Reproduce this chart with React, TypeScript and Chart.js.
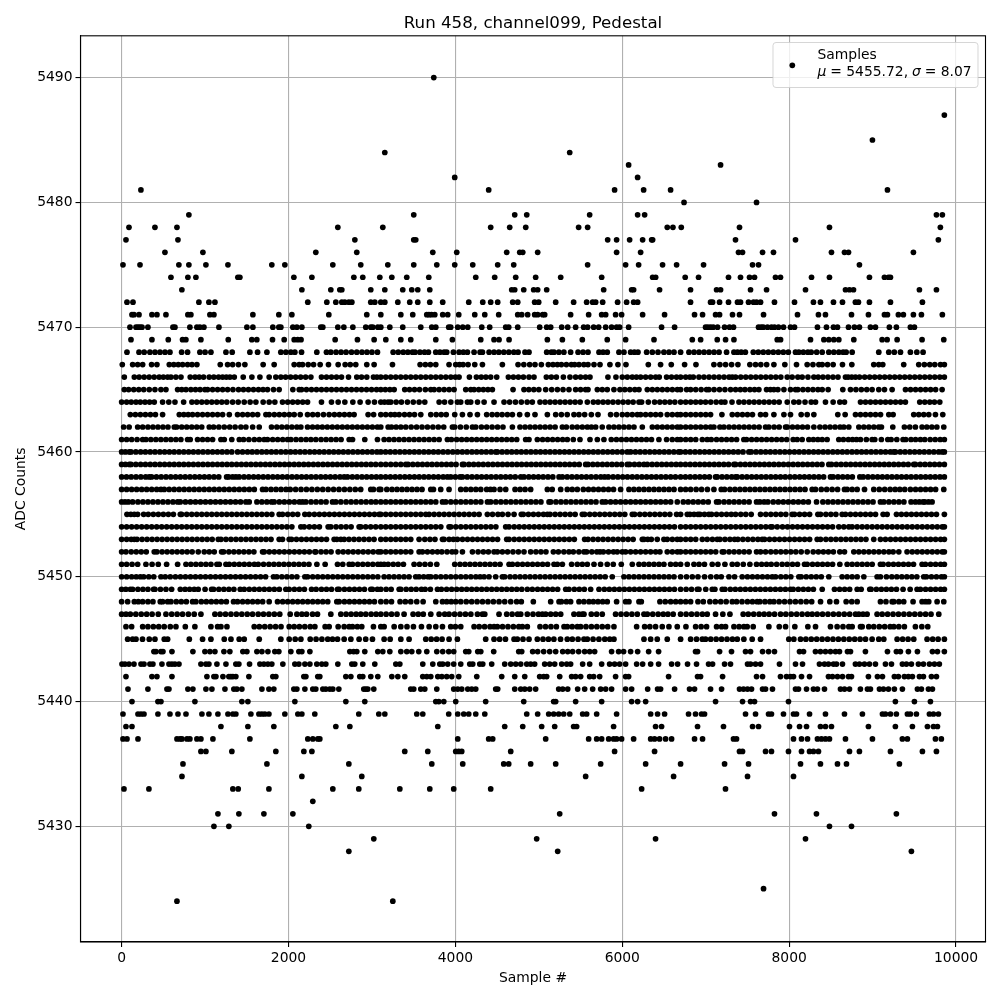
import React, { useEffect, useRef } from "react";
import { Chart, registerables } from "chart.js";

Chart.register(...registerables);

const titleText = "Run 458, channel099, Pedestal";
const xLabel = "Sample #";
const yLabel = "ADC Counts";
const xTicks = [0, 2000, 4000, 6000, 8000, 10000];
const yTicks = [5430, 5440, 5450, 5460, 5470, 5480, 5490];

const adc5490 = [3741];
const adc5487 = [9860];
const adc5485 = [8998];
const adc5484 = [3154, 5370];
const adc5483 = [6076, 7178];
const adc5482 = [3992, 6184];
const adc5481 = [231, 4399, 5908, 6256, 6579, 9178];
const adc5480 = [6740, 7609];
const adc5479 = [806, 3501, 4711, 4855, 5609, 6184, 6268, 9765, 9836];
const adc5478 = [88, 399, 663, 2591, 3130, 4423, 4651, 4843, 5477, 5585, 6539, 6607, 6707, 7405, 8483, 9812];
const adc5477 = [52, 675, 2795, 3501, 3525, 5825, 5932, 6088, 6244, 6352, 6364, 7357, 8076, 9788];
const adc5476 = [519, 974, 2327, 2818, 3729, 4016, 4615, 4771, 4807, 4986, 5932, 6220, 7393, 7441, 7681, 7812, 8507, 8663, 8711, 9489];
const adc5475 = [16, 220, 686, 806, 1010, 1274, 1800, 1956, 2531, 2866, 3190, 3501, 3777, 3992, 4208, 4507, 4699, 5585, 6040, 6196, 6483, 6651, 6974, 7561, 7633, 8842];
const adc5474 = [591, 794, 890, 1393, 1417, 2064, 2280, 2783, 2890, 3094, 3238, 3417, 3681, 4244, 4471, 4723, 4962, 5262, 5753, 6364, 6400, 6754, 6914, 7273, 7417, 7525, 7585, 7836, 7896, 8268, 8483, 8962, 9142, 9190, 9214];
const adc5473 = [722, 2160, 2507, 2615, 2639, 2986, 3154, 3369, 3477, 3549, 3693, 4675, 4711, 4819, 4938, 4986, 5094, 5777, 6112, 6136, 6447, 6818, 7130, 7178, 7537, 7729, 8196, 8675, 8723, 8771, 9561, 9765];
const adc5472 = [64, 136, 926, 1046, 1118, 2231, 2459, 2567, 2639, 2675, 2723, 2759, 2986, 3034, 3106, 3154, 3310, 3453, 3549, 3693, 3848, 4160, 4328, 4423, 4507, 4687, 4747, 4950, 4998, 5202, 5417, 5573, 5645, 5681, 5765, 5944, 6052, 6136, 6184, 6818, 7058, 7082, 7166, 7273, 7381, 7417, 7513, 7573, 7609, 7657, 7824, 8064, 8291, 8375, 8531, 8639, 8794, 8830, 8962, 9214, 9597];
const adc5471 = [124, 148, 208, 363, 423, 531, 794, 830, 1058, 1106, 1573, 1884, 2040, 2483, 2938, 3106, 3346, 3489, 3657, 3683, 3713, 3753, 3848, 3908, 4040, 4232, 4352, 4519, 4747, 4795, 4866, 4950, 4986, 5046, 5070, 5381, 5597, 5753, 5801, 5920, 5992, 6244, 6507, 6866, 6962, 7118, 7166, 7321, 7405, 7693, 8100, 8351, 8435, 8747, 8950, 9142, 9178, 9309, 9369, 9489, 9585, 9836];
const adc5470 = [100, 172, 196, 220, 244, 315, 615, 639, 818, 902, 938, 986, 1166, 1501, 1573, 1812, 1884, 1908, 2052, 2100, 2160, 2387, 2411, 2591, 2663, 2771, 2926, 2986, 3010, 3070, 3106, 3214, 3369, 3585, 3717, 3765, 3920, 3944, 4028, 4088, 4148, 4316, 4411, 4603, 4639, 4747, 5010, 5094, 5142, 5274, 5346, 5441, 5537, 5585, 5657, 5717, 5801, 5872, 5932, 5968, 6076, 6471, 6627, 6998, 7026, 7058, 7090, 7142, 7226, 7285, 7333, 7633, 7665, 7690, 7740, 7788, 7824, 7872, 7932, 8016, 8064, 8339, 8447, 8531, 8579, 8711, 8782, 8842, 8974, 9034, 9201, 9285, 9453, 9501];
const adc5469 = [112, 363, 559, 730, 770, 950, 1278, 1560, 1620, 1808, 1948, 2068, 2110, 2150, 2559, 2826, 3026, 3166, 3346, 3465, 3765, 3964, 4304, 4463, 4523, 4643, 5102, 5282, 5521, 5820, 6040, 6380, 6839, 6939, 7138, 7238, 7338, 7857, 7897, 8256, 8416, 8475, 8535, 8595, 8775, 9114, 9174, 9294, 9593, 9853];
const adc5468 = [64, 208, 270, 339, 400, 460, 520, 579, 719, 790, 938, 1000, 1070, 1250, 1325, 1537, 1629, 1741, 1908, 1968, 2028, 2076, 2156, 2339, 2455, 2507, 2570, 2630, 2690, 2755, 2818, 2880, 2940, 3000, 3066, 3254, 3315, 3375, 3430, 3485, 3517, 3575, 3630, 3677, 3765, 3815, 3865, 3896, 3976, 4044, 4095, 4144, 4224, 4296, 4324, 4404, 4463, 4520, 4580, 4640, 4700, 4751, 4834, 4882, 5094, 5150, 5182, 5240, 5300, 5381, 5470, 5530, 5589, 5721, 5770, 5820, 5960, 6020, 6100, 6145, 6188, 6292, 6360, 6428, 6499, 6560, 6620, 6699, 6799, 6860, 6920, 6980, 7040, 7100, 7160, 7250, 7338, 7380, 7425, 7475, 7570, 7630, 7690, 7750, 7810, 7870, 7930, 7990, 8076, 8116, 8170, 8224, 8264, 8330, 8396, 8475, 8535, 8595, 8647, 8683, 8755, 9074, 9194, 9260, 9334, 9453, 9530, 9605];
const adc5467 = [8, 132, 192, 252, 359, 423, 571, 625, 679, 731, 790, 843, 902, 1182, 1270, 1330, 1400, 1477, 1696, 1828, 2068, 2128, 2168, 2236, 2300, 2379, 2479, 2595, 2679, 2740, 2806, 2938, 3026, 3246, 3577, 3640, 3700, 3765, 3924, 4004, 4050, 4092, 4152, 4232, 4324, 4563, 4751, 4820, 4890, 4954, 5030, 5114, 5170, 5222, 5270, 5330, 5390, 5429, 5481, 5540, 5589, 5661, 5733, 5852, 5948, 6044, 6312, 6459, 6587, 6747, 6883, 7098, 7170, 7238, 7310, 7386, 7529, 7597, 7660, 7730, 7817, 7948, 8088, 8216, 8285, 8356, 8396, 8460, 8527, 8639, 8751, 9014, 9074, 9122, 9373, 9553, 9620, 9685, 9745, 9813, 9860];
const adc5466 = [32, 152, 210, 270, 330, 390, 450, 500, 551, 591, 650, 711, 822, 880, 930, 982, 1050, 1105, 1162, 1210, 1255, 1298, 1350, 1457, 1561, 1657, 1768, 1848, 1908, 1965, 2025, 2085, 2145, 2205, 2268, 2395, 2455, 2515, 2575, 2635, 2719, 2818, 2875, 2938, 3018, 3060, 3106, 3165, 3225, 3285, 3345, 3405, 3465, 3525, 3585, 3645, 3705, 3765, 3825, 3885, 3945, 4000, 4044, 4168, 4252, 4310, 4365, 4423, 4495, 4635, 4695, 4755, 4815, 4882, 4942, 5090, 5150, 5210, 5294, 5373, 5441, 5500, 5560, 5613, 5828, 5924, 6000, 6060, 6120, 6170, 6220, 6280, 6340, 6400, 6443, 6531, 6590, 6650, 6699, 6760, 6810, 6851, 6919, 6979, 7040, 7100, 7160, 7220, 7280, 7318, 7358, 7420, 7480, 7540, 7600, 7660, 7720, 7780, 7840, 7900, 7977, 8036, 8104, 8156, 8225, 8296, 8348, 8405, 8465, 8525, 8585, 8675, 8707, 8750, 8795, 8843, 8905, 8965, 9025, 9085, 9145, 9205, 9265, 9325, 9385, 9445, 9505, 9565, 9625, 9685, 9745, 9805, 9860];
const adc5465 = [32, 84, 145, 205, 265, 331, 399, 471, 531, 671, 720, 771, 830, 885, 940, 998, 1030, 1090, 1150, 1210, 1270, 1334, 1401, 1460, 1520, 1580, 1640, 1695, 1748, 1820, 1888, 2052, 2128, 2156, 2215, 2275, 2335, 2395, 2455, 2515, 2575, 2635, 2695, 2755, 2815, 2875, 2935, 2995, 3055, 3106, 3160, 3215, 3266, 3393, 3450, 3510, 3570, 3640, 3705, 3745, 3805, 3865, 3925, 3984, 4124, 4184, 4224, 4280, 4335, 4390, 4443, 4691, 4822, 4880, 4940, 5000, 5082, 5154, 5222, 5290, 5361, 5441, 5500, 5560, 5589, 5701, 5760, 5820, 5900, 5972, 6030, 6090, 6150, 6200, 6300, 6360, 6420, 6480, 6540, 6600, 6660, 6699, 6771, 6819, 6880, 6945, 7010, 7038, 7100, 7165, 7230, 7298, 7358, 7415, 7470, 7530, 7585, 7637, 7729, 7775, 7817, 7865, 7937, 8016, 8076, 8104, 8165, 8225, 8285, 8345, 8396, 8467, 8643, 8735, 8800, 8865, 8930, 8994, 9074, 9142, 9234, 9394, 9455, 9515, 9575, 9635, 9695, 9755, 9833];
const adc5464 = [0, 60, 115, 172, 224, 280, 335, 391, 491, 565, 639, 743, 842, 900, 960, 1020, 1080, 1140, 1200, 1260, 1330, 1397, 1469, 1540, 1609, 1696, 1768, 1836, 1928, 1990, 2050, 2110, 2170, 2228, 2395, 2515, 2595, 2675, 2771, 2858, 2954, 3030, 3106, 3150, 3194, 3226, 3290, 3353, 3425, 3495, 3565, 3633, 3805, 3870, 3945, 4024, 4064, 4144, 4184, 4265, 4344, 4463, 4583, 4650, 4720, 4790, 4860, 4922, 5014, 5075, 5135, 5195, 5255, 5315, 5375, 5435, 5495, 5581, 5653, 5710, 5770, 5828, 5888, 5950, 6010, 6070, 6130, 6200, 6232, 6312, 6387, 6450, 6510, 6570, 6630, 6699, 6760, 6820, 6880, 6939, 6998, 7060, 7125, 7186, 7230, 7315, 7398, 7458, 7520, 7580, 7640, 7700, 7760, 7820, 7880, 7977, 8056, 8116, 8190, 8264, 8316, 8435, 8527, 8607, 8663, 8855, 8915, 8975, 9035, 9095, 9155, 9215, 9275, 9335, 9393, 9565, 9625, 9685, 9741, 9805];
const adc5463 = [104, 165, 225, 285, 345, 405, 491, 691, 745, 798, 850, 910, 970, 1030, 1090, 1150, 1210, 1290, 1389, 1450, 1510, 1570, 1630, 1729, 1768, 1830, 1890, 1950, 2010, 2068, 2140, 2228, 2290, 2350, 2419, 2487, 2550, 2610, 2670, 2730, 2786, 2954, 3020, 3106, 3165, 3225, 3274, 3326, 3390, 3450, 3510, 3585, 3705, 3770, 3830, 3890, 3992, 4084, 4175, 4264, 4375, 4440, 4500, 4560, 4623, 4683, 4770, 4862, 4954, 5102, 5202, 5270, 5340, 5421, 5481, 5549, 5629, 5709, 5860, 5930, 6000, 6060, 6120, 6180, 6220, 6280, 6340, 6400, 6459, 6539, 6600, 6660, 6699, 6760, 6820, 6880, 6940, 7000, 7058, 7194, 7318, 7380, 7440, 7500, 7560, 7657, 7717, 7817, 7937, 8016, 8144, 8216, 8296, 8583, 8671, 8795, 8855, 8915, 8975, 9035, 9095, 9194, 9246, 9493, 9553, 9613, 9673, 9753, 9841];
const adc5462 = [24, 90, 192, 252, 315, 375, 435, 495, 555, 631, 659, 720, 780, 840, 900, 960, 1050, 1102, 1165, 1230, 1295, 1360, 1429, 1489, 1570, 1649, 1796, 1860, 1920, 1980, 2040, 2100, 2148, 2228, 2288, 2347, 2405, 2465, 2525, 2585, 2645, 2705, 2765, 2825, 2885, 2945, 3005, 3065, 3106, 3194, 3234, 3290, 3346, 3405, 3470, 3535, 3600, 3665, 3730, 3795, 3860, 3964, 3992, 4060, 4130, 4204, 4244, 4312, 4375, 4440, 4505, 4570, 4683, 4774, 4835, 4895, 4955, 5015, 5075, 5135, 5195, 5282, 5330, 5400, 5460, 5521, 5581, 5630, 5681, 5760, 5840, 5900, 5960, 6020, 6080, 6140, 6240, 6360, 6420, 6480, 6539, 6599, 6660, 6699, 6760, 6820, 6880, 6940, 7000, 7058, 7098, 7170, 7218, 7280, 7340, 7400, 7460, 7520, 7580, 7640, 7717, 7757, 7820, 7880, 7957, 7977, 8040, 8100, 8160, 8220, 8296, 8368, 8430, 8490, 8550, 8610, 8655, 8715, 8835, 8895, 8955, 9015, 9074, 9106, 9242, 9381, 9445, 9513, 9593, 9650, 9710, 9770, 9853];
const adc5461 = [0, 60, 120, 185, 252, 291, 350, 410, 470, 530, 590, 650, 710, 790, 822, 910, 970, 1030, 1090, 1190, 1230, 1320, 1410, 1461, 1525, 1590, 1650, 1709, 1748, 1810, 1870, 1930, 1988, 2028, 2090, 2150, 2210, 2268, 2327, 2390, 2450, 2510, 2570, 2630, 2727, 2767, 2914, 3066, 3146, 3205, 3265, 3325, 3385, 3445, 3505, 3565, 3625, 3685, 3745, 3805, 3904, 3952, 4015, 4075, 4135, 4195, 4255, 4315, 4375, 4435, 4495, 4555, 4615, 4675, 4735, 4842, 4882, 4982, 5045, 5105, 5165, 5225, 5285, 5341, 5413, 5493, 5613, 5701, 5780, 5868, 5930, 5990, 6050, 6110, 6170, 6230, 6290, 6350, 6439, 6531, 6599, 6660, 6699, 6760, 6820, 6880, 6959, 7018, 7066, 7130, 7190, 7250, 7310, 7370, 7457, 7489, 7550, 7610, 7670, 7730, 7790, 7850, 7910, 7970, 8048, 8096, 8156, 8236, 8290, 8344, 8396, 8455, 8595, 8650, 8710, 8760, 8807, 8855, 8925, 8994, 9026, 9105, 9182, 9222, 9290, 9365, 9397, 9460, 9515, 9573, 9625, 9690, 9750, 9810, 9860];
const adc5460 = [0, 45, 92, 112, 170, 228, 285, 343, 400, 458, 515, 573, 630, 688, 745, 803, 860, 918, 975, 1033, 1090, 1148, 1205, 1263, 1320, 1390, 1449, 1509, 1565, 1622, 1680, 1737, 1795, 1852, 1910, 1967, 2025, 2082, 2140, 2197, 2255, 2312, 2370, 2427, 2485, 2542, 2600, 2657, 2715, 2772, 2830, 2887, 2945, 3002, 3060, 3106, 3163, 3220, 3278, 3335, 3393, 3450, 3508, 3565, 3623, 3680, 3738, 3795, 3853, 3910, 3968, 4025, 4083, 4140, 4198, 4255, 4313, 4370, 4428, 4483, 4503, 4560, 4618, 4675, 4733, 4790, 4848, 4905, 4963, 5020, 5078, 5135, 5193, 5250, 5308, 5365, 5423, 5480, 5538, 5595, 5653, 5710, 5768, 5825, 5883, 5940, 5998, 6060, 6100, 6158, 6215, 6273, 6330, 6388, 6445, 6503, 6560, 6618, 6675, 6699, 6757, 6814, 6872, 6929, 6987, 7044, 7102, 7159, 7217, 7274, 7332, 7389, 7447, 7517, 7545, 7603, 7660, 7718, 7775, 7833, 7890, 7948, 8005, 8063, 8120, 8178, 8235, 8293, 8350, 8408, 8465, 8523, 8580, 8638, 8695, 8753, 8810, 8868, 8925, 8983, 9040, 9098, 9155, 9213, 9254, 9274, 9332, 9389, 9447, 9504, 9562, 9619, 9677, 9734, 9792, 9835, 9860];
const adc5459 = [0, 45, 92, 112, 170, 228, 285, 343, 400, 458, 515, 573, 630, 688, 745, 803, 860, 918, 975, 1033, 1090, 1148, 1205, 1263, 1320, 1378, 1435, 1493, 1550, 1608, 1665, 1723, 1780, 1838, 1895, 1953, 2010, 2068, 2125, 2183, 2240, 2298, 2355, 2413, 2470, 2528, 2585, 2643, 2700, 2758, 2815, 2873, 2930, 2988, 3045, 3106, 3165, 3225, 3285, 3345, 3405, 3433, 3490, 3548, 3605, 3663, 3720, 3778, 3835, 3893, 3950, 4008, 4084, 4104, 4162, 4219, 4277, 4334, 4392, 4449, 4507, 4564, 4622, 4679, 4737, 4794, 4852, 4909, 4967, 5024, 5082, 5139, 5197, 5254, 5312, 5369, 5427, 5484, 5561, 5589, 5647, 5704, 5762, 5819, 5877, 5934, 5992, 6060, 6088, 6146, 6203, 6260, 6300, 6358, 6415, 6473, 6530, 6588, 6645, 6699, 6757, 6814, 6872, 6929, 6987, 7044, 7102, 7159, 7217, 7274, 7338, 7358, 7416, 7473, 7531, 7588, 7646, 7703, 7761, 7818, 7876, 7933, 7991, 8048, 8106, 8163, 8221, 8278, 8336, 8393, 8475, 8507, 8565, 8622, 8680, 8737, 8795, 8852, 8910, 8967, 9025, 9082, 9140, 9197, 9255, 9312, 9370, 9427, 9493, 9513, 9571, 9628, 9686, 9743, 9801, 9860];
const adc5458 = [0, 58, 115, 173, 230, 288, 331, 359, 417, 474, 532, 589, 647, 704, 762, 819, 877, 934, 992, 1049, 1107, 1164, 1258, 1282, 1330, 1369, 1409, 1467, 1524, 1582, 1639, 1697, 1754, 1812, 1869, 1927, 1984, 2042, 2099, 2157, 2214, 2272, 2329, 2387, 2444, 2502, 2559, 2617, 2667, 2707, 2765, 2822, 2880, 2937, 2995, 3052, 3106, 3164, 3221, 3279, 3336, 3394, 3451, 3509, 3566, 3624, 3681, 3739, 3796, 3854, 3904, 3944, 4000, 4056, 4084, 4142, 4199, 4257, 4314, 4372, 4429, 4487, 4544, 4602, 4659, 4717, 4783, 4822, 4880, 4937, 4995, 5052, 5110, 5167, 5242, 5282, 5340, 5397, 5455, 5512, 5570, 5627, 5685, 5742, 5788, 5832, 5890, 5947, 6005, 6062, 6120, 6177, 6235, 6292, 6350, 6407, 6465, 6522, 6580, 6637, 6699, 6757, 6814, 6872, 6929, 6987, 7044, 7118, 7138, 7196, 7253, 7311, 7358, 7378, 7436, 7493, 7551, 7608, 7666, 7723, 7781, 7838, 7896, 7953, 8011, 8068, 8126, 8183, 8241, 8298, 8356, 8413, 8495, 8527, 8585, 8642, 8700, 8757, 8847, 8887, 8945, 9002, 9060, 9117, 9175, 9232, 9290, 9347, 9405, 9462, 9520, 9577, 9635, 9692, 9750, 9807, 9860];
const adc5457 = [0, 60, 120, 180, 240, 300, 360, 420, 471, 511, 570, 630, 690, 750, 810, 870, 930, 990, 1050, 1110, 1170, 1230, 1290, 1350, 1410, 1470, 1530, 1590, 1689, 1729, 1790, 1850, 1910, 1970, 2020, 2085, 2150, 2215, 2280, 2345, 2410, 2475, 2540, 2605, 2670, 2735, 2800, 2865, 2986, 3018, 3086, 3106, 3178, 3240, 3300, 3360, 3420, 3480, 3540, 3600, 3705, 3737, 3824, 3924, 4064, 4125, 4185, 4245, 4304, 4375, 4420, 4463, 4535, 4603, 4715, 4775, 4835, 4902, 5102, 5160, 5262, 5341, 5400, 5461, 5533, 5595, 5655, 5715, 5775, 5835, 5895, 5980, 6080, 6140, 6200, 6260, 6320, 6380, 6440, 6500, 6560, 6620, 6699, 6759, 6819, 6885, 6950, 7020, 7098, 7186, 7226, 7290, 7350, 7410, 7470, 7530, 7590, 7650, 7710, 7770, 7830, 7890, 7950, 8010, 8070, 8130, 8190, 8276, 8316, 8385, 8450, 8515, 8580, 8663, 8695, 8755, 8815, 8903, 9014, 9080, 9145, 9210, 9270, 9326, 9385, 9453, 9515, 9575, 9635, 9695, 9755, 9853];
const adc5456 = [0, 40, 80, 132, 195, 255, 315, 375, 435, 495, 555, 615, 671, 703, 765, 825, 885, 945, 1005, 1065, 1125, 1185, 1245, 1305, 1365, 1425, 1489, 1529, 1621, 1680, 1740, 1796, 1828, 1890, 1950, 2010, 2070, 2130, 2168, 2208, 2270, 2330, 2390, 2450, 2527, 2567, 2627, 2690, 2750, 2810, 2870, 2930, 2990, 3046, 3106, 3165, 3225, 3285, 3345, 3405, 3465, 3525, 3585, 3645, 3705, 3765, 3845, 3884, 3945, 4005, 4065, 4125, 4185, 4245, 4305, 4384, 4423, 4485, 4545, 4605, 4665, 4725, 4785, 4845, 4905, 4965, 5025, 5122, 5142, 5205, 5265, 5325, 5385, 5445, 5505, 5565, 5625, 5685, 5760, 5800, 5860, 5920, 5980, 6040, 6100, 6160, 6220, 6280, 6340, 6400, 6460, 6520, 6580, 6659, 6731, 6790, 6850, 6910, 6970, 7030, 7130, 7158, 7220, 7280, 7340, 7400, 7460, 7520, 7609, 7649, 7700, 7745, 7809, 7870, 7930, 7990, 8050, 8110, 8170, 8230, 8328, 8404, 8465, 8525, 8585, 8645, 8705, 8765, 8825, 8885, 8945, 9005, 9094, 9134, 9195, 9255, 9315, 9375, 9461, 9513, 9560, 9605, 9625, 9670, 9713];
const adc5455 = [64, 110, 152, 192, 264, 319, 380, 440, 500, 560, 620, 703, 719, 780, 840, 900, 960, 1020, 1080, 1140, 1200, 1260, 1320, 1380, 1440, 1500, 1560, 1620, 1680, 1740, 1800, 1888, 1928, 1990, 2050, 2110, 2196, 2248, 2310, 2370, 2430, 2490, 2550, 2610, 2670, 2730, 2790, 2850, 2910, 2970, 3030, 3086, 3106, 3165, 3225, 3285, 3345, 3405, 3465, 3525, 3585, 3645, 3685, 3745, 3805, 3865, 3925, 3985, 4045, 4105, 4165, 4225, 4284, 4383, 4445, 4510, 4563, 4631, 4703, 4790, 4814, 4875, 4935, 4995, 5055, 5102, 5134, 5195, 5255, 5315, 5375, 5435, 5521, 5549, 5610, 5670, 5730, 5790, 5850, 5910, 5970, 6030, 6120, 6148, 6210, 6270, 6330, 6390, 6450, 6510, 6570, 6651, 6699, 6779, 6811, 6860, 6907, 6931, 6985, 7038, 7070, 7130, 7190, 7250, 7306, 7358, 7420, 7480, 7545, 7657, 7720, 7780, 7840, 7900, 7960, 8036, 8064, 8125, 8185, 8245, 8344, 8376, 8440, 8500, 8560, 8635, 8675, 8735, 8795, 8855, 8915, 8975, 9035, 9126, 9174, 9286, 9345, 9405, 9465, 9525, 9585, 9645, 9705, 9765, 9860];
const adc5454 = [0, 60, 120, 180, 240, 300, 360, 420, 480, 540, 600, 660, 720, 780, 840, 900, 960, 1020, 1080, 1140, 1200, 1260, 1320, 1380, 1440, 1500, 1560, 1620, 1680, 1740, 1800, 1860, 1920, 1980, 2040, 2148, 2188, 2250, 2310, 2370, 2475, 2507, 2570, 2630, 2690, 2750, 2846, 2866, 2925, 2985, 3045, 3106, 3165, 3225, 3285, 3345, 3405, 3465, 3525, 3585, 3645, 3705, 3765, 3825, 3924, 3944, 4005, 4065, 4125, 4185, 4245, 4305, 4365, 4425, 4485, 4603, 4643, 4705, 4765, 4825, 4885, 4945, 5005, 5065, 5125, 5185, 5245, 5305, 5365, 5425, 5485, 5545, 5605, 5665, 5725, 5785, 5845, 5905, 5965, 6025, 6085, 6145, 6205, 6265, 6325, 6385, 6445, 6505, 6565, 6625, 6699, 6760, 6820, 6880, 6940, 7000, 7060, 7120, 7180, 7240, 7300, 7360, 7420, 7480, 7540, 7600, 7660, 7720, 7777, 7797, 7857, 7920, 7980, 8040, 8100, 8160, 8220, 8280, 8340, 8400, 8460, 8520, 8595, 8655, 8715, 8755, 8815, 8875, 8934, 8995, 9055, 9115, 9175, 9235, 9295, 9355, 9415, 9475, 9535, 9595, 9655, 9715, 9775, 9835, 9860];
const adc5453 = [0, 60, 115, 152, 184, 245, 305, 365, 425, 485, 545, 605, 665, 725, 785, 845, 905, 965, 1025, 1085, 1158, 1190, 1250, 1310, 1370, 1430, 1490, 1550, 1610, 1670, 1730, 1790, 1888, 1928, 2008, 2036, 2095, 2155, 2215, 2275, 2335, 2395, 2455, 2547, 2579, 2627, 2667, 2725, 2785, 2845, 2905, 2965, 3025, 3106, 3165, 3225, 3285, 3345, 3405, 3465, 3565, 3633, 3695, 3755, 3845, 3864, 3925, 3976, 4024, 4085, 4145, 4205, 4265, 4325, 4385, 4445, 4505, 4615, 4643, 4705, 4765, 4825, 4885, 4945, 5005, 5065, 5125, 5185, 5245, 5305, 5365, 5425, 5549, 5589, 5650, 5710, 5770, 5830, 5890, 5950, 6010, 6070, 6130, 6240, 6260, 6305, 6348, 6419, 6499, 6539, 6600, 6659, 6699, 6760, 6820, 6880, 6959, 7018, 7080, 7138, 7170, 7230, 7290, 7346, 7385, 7445, 7505, 7565, 7625, 7677, 7705, 7765, 7825, 7885, 7945, 8005, 8065, 8125, 8185, 8245, 8336, 8376, 8440, 8500, 8560, 8620, 8680, 8740, 8800, 8860, 8920, 9014, 9094, 9154, 9215, 9275, 9335, 9395, 9455, 9515, 9575, 9635, 9695, 9755, 9815, 9860];
const adc5452 = [0, 52, 115, 175, 235, 295, 391, 423, 485, 545, 605, 665, 725, 785, 845, 918, 990, 1050, 1110, 1198, 1222, 1285, 1345, 1405, 1465, 1525, 1585, 1689, 1709, 1770, 1830, 1890, 1950, 2010, 2070, 2130, 2190, 2250, 2316, 2327, 2390, 2450, 2510, 2595, 2655, 2715, 2775, 2835, 2895, 2955, 3015, 3075, 3106, 3165, 3225, 3285, 3345, 3405, 3465, 3565, 3605, 3665, 3725, 3785, 3837, 3900, 3960, 4004, 4084, 4204, 4272, 4335, 4395, 4463, 4503, 4563, 4625, 4690, 4755, 4822, 4902, 4965, 5025, 5085, 5174, 5234, 5300, 5361, 5413, 5480, 5541, 5573, 5635, 5695, 5733, 5773, 5835, 5895, 5940, 6000, 6040, 6100, 6160, 6220, 6280, 6340, 6400, 6451, 6539, 6600, 6660, 6699, 6760, 6820, 6880, 6940, 7000, 7060, 7120, 7198, 7218, 7280, 7340, 7400, 7460, 7520, 7609, 7657, 7717, 7780, 7840, 7900, 7960, 8020, 8080, 8144, 8216, 8288, 8350, 8410, 8470, 8530, 8607, 8663, 8775, 8835, 8895, 8955, 9015, 9075, 9135, 9195, 9246, 9314, 9413, 9475, 9535, 9595, 9655, 9715, 9775, 9835, 9860];
const adc5451 = [0, 60, 125, 192, 291, 365, 439, 539, 671, 771, 830, 890, 950, 1010, 1070, 1142, 1170, 1250, 1290, 1350, 1410, 1470, 1530, 1590, 1637, 1701, 1765, 1825, 1885, 1945, 2005, 2065, 2125, 2185, 2245, 2340, 2439, 2587, 2650, 2727, 2767, 2830, 2890, 2950, 3010, 3070, 3106, 3146, 3194, 3255, 3314, 3377, 3505, 3570, 3635, 3700, 3777, 3992, 4055, 4115, 4175, 4235, 4295, 4355, 4415, 4475, 4535, 4643, 4683, 4745, 4805, 4865, 4925, 4985, 5045, 5105, 5182, 5222, 5282, 5393, 5461, 5521, 5581, 5661, 5740, 5820, 5892, 5988, 6120, 6200, 6260, 6320, 6380, 6440, 6499, 6579, 6640, 6699, 6779, 6859, 6920, 6985, 7078, 7146, 7230, 7318, 7378, 7450, 7529, 7609, 7670, 7729, 7785, 7850, 7916, 7976, 8040, 8100, 8184, 8216, 8280, 8340, 8400, 8460, 8520, 8607, 8695, 8755, 8815, 8875, 8935, 8995, 9094, 9126, 9190, 9250, 9310, 9370, 9430, 9490, 9593, 9633, 9695, 9755, 9815, 9860];
const adc5450 = [0, 60, 120, 175, 224, 264, 325, 385, 471, 523, 583, 645, 705, 765, 825, 885, 945, 1005, 1065, 1125, 1185, 1245, 1305, 1365, 1425, 1485, 1545, 1605, 1665, 1725, 1820, 1860, 1920, 1980, 2040, 2100, 2196, 2228, 2290, 2350, 2410, 2470, 2530, 2590, 2650, 2710, 2770, 2830, 2890, 2950, 3010, 3070, 3146, 3205, 3265, 3325, 3385, 3445, 3525, 3565, 3620, 3673, 3705, 3765, 3825, 3885, 3945, 4005, 4065, 4125, 4185, 4245, 4296, 4344, 4403, 4483, 4563, 4591, 4655, 4715, 4775, 4835, 4895, 4955, 5015, 5075, 5135, 5195, 5255, 5315, 5375, 5435, 5495, 5555, 5615, 5675, 5735, 5795, 5880, 6020, 6080, 6140, 6200, 6260, 6320, 6380, 6440, 6500, 6560, 6620, 6699, 6770, 6839, 6907, 6986, 7060, 7130, 7186, 7278, 7346, 7437, 7500, 7560, 7620, 7680, 7740, 7797, 7837, 7900, 7960, 8020, 8116, 8144, 8205, 8265, 8325, 8385, 8475, 8635, 8695, 8755, 8815, 8895, 9054, 9094, 9166, 9230, 9290, 9350, 9410, 9470, 9530, 9613, 9645, 9705, 9765, 9825, 9860];
const adc5449 = [0, 50, 104, 132, 195, 255, 315, 383, 399, 465, 531, 599, 703, 760, 815, 870, 918, 1000, 1078, 1102, 1165, 1225, 1285, 1345, 1421, 1469, 1530, 1590, 1650, 1710, 1770, 1830, 1890, 1968, 2008, 2070, 2130, 2190, 2276, 2331, 2395, 2455, 2515, 2587, 2607, 2670, 2730, 2790, 2850, 2910, 2986, 3006, 3065, 3106, 3170, 3230, 3326, 3346, 3410, 3470, 3530, 3593, 3637, 3700, 3785, 3832, 3895, 3955, 4015, 4075, 4135, 4195, 4255, 4315, 4375, 4435, 4495, 4555, 4615, 4675, 4735, 4795, 4862, 4922, 4985, 5045, 5105, 5165, 5225, 5322, 5361, 5425, 5485, 5545, 5621, 5721, 5785, 5845, 5905, 5965, 6025, 6085, 6145, 6205, 6265, 6325, 6385, 6445, 6505, 6565, 6625, 6699, 6765, 6830, 6899, 6919, 7000, 7078, 7110, 7198, 7230, 7295, 7355, 7415, 7475, 7535, 7595, 7655, 7715, 7775, 7835, 7895, 7955, 8016, 8048, 8110, 8170, 8230, 8290, 8396, 8543, 8605, 8665, 8725, 8815, 8863, 8966, 8982, 9045, 9105, 9165, 9225, 9286, 9365, 9450, 9533, 9573, 9635, 9695, 9755, 9815, 9860];
const adc5448 = [0, 72, 152, 200, 252, 315, 375, 463, 491, 551, 591, 655, 715, 775, 850, 890, 955, 1015, 1075, 1135, 1195, 1255, 1341, 1389, 1450, 1510, 1570, 1630, 1690, 1768, 1868, 1930, 1990, 2050, 2110, 2170, 2230, 2290, 2350, 2410, 2470, 2579, 2607, 2670, 2730, 2790, 2850, 2910, 2970, 3030, 3106, 3170, 3234, 3337, 3400, 3465, 3537, 3613, 3765, 3845, 3896, 3950, 4004, 4064, 4130, 4195, 4260, 4325, 4390, 4455, 4523, 4591, 4663, 4734, 4790, 4934, 5142, 5242, 5270, 5330, 5381, 5481, 5540, 5601, 5653, 5709, 5765, 5820, 5932, 6040, 6080, 6200, 6228, 6451, 6515, 6580, 6640, 6699, 6760, 6819, 6907, 6971, 7050, 7115, 7180, 7245, 7318, 7370, 7435, 7500, 7560, 7617, 7649, 7710, 7769, 7817, 7880, 7945, 8010, 8075, 8140, 8205, 8270, 8376, 8487, 8567, 8683, 8750, 8815, 9094, 9160, 9234, 9254, 9315, 9373, 9485, 9593, 9635, 9673, 9773, 9853];
const adc5447 = [0, 52, 104, 170, 235, 300, 365, 439, 531, 600, 665, 730, 800, 870, 950, 1118, 1180, 1245, 1310, 1375, 1440, 1505, 1569, 1637, 1700, 1765, 1830, 1895, 2020, 2100, 2160, 2216, 2288, 2347, 2507, 2627, 2690, 2750, 2810, 2866, 2926, 2990, 3050, 3106, 3170, 3235, 3300, 3385, 3493, 3555, 3615, 3705, 3805, 3872, 3924, 3990, 4055, 4120, 4185, 4264, 4324, 4352, 4523, 4615, 4680, 4745, 4783, 4862, 4930, 4995, 5042, 5082, 5142, 5202, 5262, 5421, 5480, 5521, 5541, 5629, 5693, 5760, 5920, 5985, 6050, 6115, 6180, 6260, 6300, 6365, 6430, 6491, 6547, 6610, 6699, 6765, 6830, 6895, 6960, 7018, 7118, 7205, 7290, 7449, 7510, 7575, 7640, 7700, 7760, 7825, 7897, 7960, 8025, 8090, 8155, 8220, 8276, 8336, 8400, 8465, 8530, 8595, 8660, 8725, 8795, 8835, 8885, 8934, 9054, 9115, 9180, 9245, 9310, 9375, 9440, 9505, 9570, 9635, 9700, 9793];
const adc5446 = [52, 120, 252, 315, 380, 445, 510, 583, 651, 763, 878, 1070, 1150, 1190, 1262, 1589, 1650, 1715, 1780, 1845, 1910, 2008, 2068, 2130, 2195, 2260, 2316, 2439, 2487, 2595, 2667, 2727, 2767, 2825, 2878, 3018, 3106, 3146, 3266, 3346, 3420, 3497, 3593, 3685, 3765, 3845, 3944, 4000, 4064, 4224, 4285, 4350, 4415, 4463, 4503, 4565, 4630, 4695, 4760, 4803, 4862, 5014, 5080, 5145, 5210, 5302, 5341, 5400, 5461, 5501, 5565, 5630, 5695, 5760, 5825, 5900, 6172, 6268, 6330, 6399, 6479, 6559, 6659, 6763, 6879, 6945, 7010, 7130, 7190, 7238, 7338, 7400, 7457, 7497, 7569, 7757, 7881, 7957, 8068, 8224, 8316, 8495, 8575, 8645, 8715, 8755, 8855, 8875, 8954, 9014, 9080, 9145, 9210, 9254, 9314, 9381, 9513, 9590, 9661];
const adc5445 = [72, 132, 172, 250, 331, 399, 511, 551, 811, 970, 1070, 1230, 1310, 1409, 1469, 1649, 1908, 2008, 2080, 2148, 2260, 2330, 2400, 2470, 2527, 2587, 2667, 2747, 2846, 2925, 3006, 3146, 3218, 3346, 3445, 3645, 3710, 3775, 3840, 3924, 4024, 4363, 4463, 4530, 4600, 4703, 4742, 4810, 4882, 4982, 5050, 5115, 5180, 5260, 5341, 5401, 5470, 5541, 5581, 5650, 5720, 5790, 5850, 5900, 6260, 6340, 6419, 6539, 6699, 6819, 6890, 6959, 6998, 7060, 7125, 7190, 7255, 7320, 7378, 7457, 7557, 7657, 7996, 8056, 8136, 8200, 8265, 8330, 8395, 8460, 8525, 8590, 8655, 8720, 8785, 8850, 8915, 8994, 9074, 9134, 9294, 9360, 9425, 9493, 9653, 9720, 9785, 9860];
const adc5444 = [387, 411, 471, 495, 603, 854, 998, 1058, 1118, 1226, 1297, 1453, 1501, 1621, 1681, 1753, 1836, 1884, 2028, 2124, 2160, 2256, 2735, 2780, 2818, 2914, 3070, 3130, 3214, 3346, 3417, 3477, 3561, 3657, 3777, 3848, 3920, 3980, 4124, 4160, 4268, 4304, 4459, 4759, 4795, 4926, 4986, 5058, 5130, 5202, 5286, 5346, 5405, 5477, 5549, 5609, 5669, 5872, 5956, 6016, 6100, 6184, 6316, 6435, 6878, 6902, 7166, 7309, 7477, 7537, 7681, 7753, 7824, 8124, 8172, 8315, 8375, 8435, 8495, 8555, 8603, 8699, 8735, 8914, 9178, 9285, 9333, 9429, 9537, 9717, 9777, 9860];
const adc5443 = [4, 40, 88, 148, 232, 268, 339, 375, 483, 567, 603, 639, 687, 950, 1010, 1046, 1142, 1250, 1369, 1405, 1533, 1657, 1705, 1753, 1800, 1932, 2076, 2124, 2196, 2256, 2339, 2399, 2447, 2591, 2759, 2794, 2890, 3034, 3286, 3334, 3609, 3729, 3813, 3848, 3908, 3980, 4064, 4172, 4208, 4292, 4328, 4435, 4591, 4663, 4723, 4783, 4855, 4902, 4950, 5070, 5130, 5190, 5274, 5334, 5381, 5525, 5609, 5753, 5848, 5908, 5968, 6040, 6172, 6244, 6340, 6435, 6591, 6663, 6782, 6890, 7034, 7082, 7226, 7297, 7501, 7537, 7597, 7657, 7884, 8076, 8160, 8363, 8423, 8471, 8531, 8567, 8639, 8794, 8842, 8902, 8962, 9034, 9154, 9226, 9357, 9405, 9465, 9549, 9609, 9681, 9741, 9800];
const adc5442 = [52, 363, 423, 603, 1022, 1106, 1130, 1214, 1285, 1309, 1333, 1369, 1525, 1812, 1848, 2184, 2208, 2351, 2375, 2687, 2747, 2854, 2890, 2986, 3070, 3238, 3310, 3393, 3609, 3657, 3705, 3789, 3837, 3896, 3956, 4040, 4256, 4555, 4711, 4831, 5010, 5058, 5094, 5250, 5393, 5441, 5501, 5609, 5657, 5729, 5920, 6040, 6076, 6555, 6902, 6938, 7202, 7609, 7681, 7896, 7968, 8016, 8052, 8148, 8244, 8471, 8519, 8579, 8639, 8711, 8747, 8950, 9058, 9118, 9261, 9309, 9381, 9429, 9477, 9561, 9609, 9705, 9765];
const adc5441 = [76, 315, 543, 567, 794, 854, 1010, 1082, 1238, 1345, 1381, 1441, 1681, 1765, 1824, 2064, 2100, 2196, 2291, 2327, 2411, 2447, 2495, 2531, 2603, 2902, 2926, 2950, 3022, 3465, 3501, 3585, 3633, 3777, 3980, 4028, 4076, 4148, 4196, 4244, 4483, 4507, 4711, 4783, 4831, 4890, 4962, 5238, 5286, 5346, 5465, 5549, 5645, 5741, 5801, 5872, 6040, 6112, 6304, 6423, 6459, 6627, 6806, 6866, 7058, 7190, 7405, 7453, 7501, 7549, 7681, 7717, 7800, 8076, 8112, 8208, 8291, 8339, 8423, 8615, 8663, 8723, 8854, 8938, 8974, 9082, 9130, 9190, 9261, 9357, 9537, 9585, 9669, 9717];
const adc5440 = [124, 435, 471, 878, 1441, 1513, 2076, 2687, 2914, 3765, 3801, 3861, 4004, 4363, 4819, 5178, 5202, 5441, 5753, 6112, 6184, 6280, 7118, 7441, 7537, 7585, 7992, 9273, 9501, 9693];
const adc5439 = [16, 196, 232, 268, 435, 579, 675, 771, 962, 1046, 1154, 1274, 1333, 1369, 1549, 1645, 1681, 1717, 1765, 1956, 2112, 2160, 2315, 2842, 3082, 3154, 3537, 3609, 3920, 4028, 4100, 4160, 4244, 4352, 4855, 4986, 5118, 5178, 5238, 5298, 5370, 5525, 5573, 5693, 5932, 6340, 6423, 6507, 6794, 6878, 6950, 6986, 7477, 7597, 7753, 7788, 7932, 8052, 8088, 8244, 8435, 8663, 8878, 9118, 9154, 9214, 9285, 9417, 9453, 9525, 9681, 9729, 9789];
const adc5438 = [52, 124, 1190, 1513, 1824, 2567, 2735, 3789, 4591, 4807, 5034, 5190, 5417, 5453, 5896, 6399, 6471, 6902, 7213, 7561, 7633, 8004, 8124, 8208, 8375, 8435, 8507, 8950, 9273, 9477, 9657, 9729, 9777];
const adc5437 = [16, 64, 196, 663, 700, 723, 783, 818, 902, 950, 1094, 1537, 2231, 2291, 2351, 2375, 4028, 4399, 4447, 5082, 5597, 5693, 5753, 5837, 5896, 5932, 5992, 6136, 6340, 6387, 6447, 6519, 6591, 6866, 6962, 7333, 7369, 8052, 8148, 8220, 8339, 8387, 8435, 8483, 8675, 8998, 9357, 9417, 9753, 9824];
const adc5436 = [950, 1010, 1321, 1848, 2184, 2280, 3393, 3669, 4004, 4040, 4076, 4663, 5908, 6387, 7405, 7441, 7717, 7788, 7992, 8148, 8244, 8291, 8351, 8723, 8842, 9214, 9597, 9765];
const adc5435 = [735, 1741, 2723, 3717, 4088, 4579, 4639, 4902, 5202, 5741, 6280, 6699, 7226, 7513, 8136, 8375, 8579, 8687, 9321];
const adc5434 = [723, 2160, 2878, 5561, 6615, 7501, 8052];
const adc5433 = [28, 327, 1333, 1397, 1765, 2531, 2842, 3334, 3693, 3980, 4423, 6232, 7237];
const adc5432 = [2291];
const adc5431 = [1154, 1405, 1705, 2052, 5250, 7824, 8327, 9285];
const adc5430 = [1106, 1285, 2243, 8483, 8747];
const adc5429 = [3022, 4974, 6399, 8196];
const adc5428 = [2723, 5226, 9465];
const adc5425 = [7693];
const adc5424 = [663, 3250];

const levels: [number, number[]][] = [
  [5490, adc5490], [5487, adc5487], [5485, adc5485], [5484, adc5484], [5483, adc5483], [5482, adc5482],
  [5481, adc5481], [5480, adc5480], [5479, adc5479], [5478, adc5478], [5477, adc5477], [5476, adc5476],
  [5475, adc5475], [5474, adc5474], [5473, adc5473], [5472, adc5472], [5471, adc5471], [5470, adc5470],
  [5469, adc5469], [5468, adc5468], [5467, adc5467], [5466, adc5466], [5465, adc5465], [5464, adc5464],
  [5463, adc5463], [5462, adc5462], [5461, adc5461], [5460, adc5460], [5459, adc5459], [5458, adc5458],
  [5457, adc5457], [5456, adc5456], [5455, adc5455], [5454, adc5454], [5453, adc5453], [5452, adc5452],
  [5451, adc5451], [5450, adc5450], [5449, adc5449], [5448, adc5448], [5447, adc5447], [5446, adc5446],
  [5445, adc5445], [5444, adc5444], [5443, adc5443], [5442, adc5442], [5441, adc5441], [5440, adc5440],
  [5439, adc5439], [5438, adc5438], [5437, adc5437], [5436, adc5436], [5435, adc5435], [5434, adc5434],
  [5433, adc5433], [5432, adc5432], [5431, adc5431], [5430, adc5430], [5429, adc5429], [5428, adc5428],
  [5425, adc5425], [5424, adc5424],
];

const FONT = '"DejaVu Sans"';

const framePlugin = {
  id: "frameAndLegend",
  afterDatasetsDraw(chart: any) {
    const { ctx, chartArea: a } = chart;
    ctx.save();
    ctx.strokeStyle = "#000";
    ctx.lineWidth = 1.1;
    ctx.strokeRect(a.left, a.top, a.right - a.left, a.bottom - a.top);
    // legend box
    const bx = 773, by = 42.5, bw = 205, bh = 45, r = 3;
    ctx.beginPath();
    ctx.roundRect(bx, by, bw, bh, r);
    ctx.fillStyle = "rgba(255,255,255,0.8)";
    ctx.fill();
    ctx.strokeStyle = "rgba(204,204,204,0.8)";
    ctx.lineWidth = 1;
    ctx.stroke();
    ctx.fillStyle = "#000";
    ctx.beginPath();
    ctx.arc(792.3, 65.3, 2.85, 0, Math.PI * 2);
    ctx.fill();
    ctx.textBaseline = "alphabetic";
    ctx.textAlign = "left";
    ctx.font = `13.89px ${FONT}`;
    ctx.fillText("Samples", 817.5, 58.7);
    let x = 817.5;
    const baseline = 76;
    const parts: [string, boolean][] = [["μ", true], [" = 5455.72, ", false], ["σ", true], [" = 8.07", false]];
    for (const [t, it] of parts) {
      ctx.font = `${it ? "italic " : ""}13.89px ${FONT}`;
      ctx.fillText(t, x, baseline);
      x += ctx.measureText(t).width - 0.5;
    }
    ctx.restore();
  },
};

export default function App() {
  const ref = useRef<HTMLCanvasElement | null>(null);
  useEffect(() => {
    document.body.style.margin = "0";
    const points = levels.flatMap(([y, xs]) => xs.map((x) => ({ x, y })));
    const chart = new Chart(ref.current!, {
      type: "scatter",
      data: {
        datasets: [
          {
            label: "Samples",
            data: points,
            backgroundColor: "#000",
            borderColor: "#000",
            pointRadius: 2.85,
            pointBorderWidth: 0,
            pointHoverRadius: 2.85,
          },
        ],
      },
      options: {
        animation: false,
        responsive: false,
        devicePixelRatio: 1,
        layout: { padding: { left: 0, right: 14.5, top: 0, bottom: 13 } },
        plugins: {
          legend: { display: false },
          tooltip: { enabled: false },
          title: {
            display: true,
            fullSize: false,
            text: titleText,
            color: "#000",
            font: { family: FONT, size: 16.67, weight: "normal" },
            padding: { top: 13.5, bottom: 2.3 },
          },
        },
        scales: {
          x: {
            type: "linear",
            min: -493,
            max: 10353,
            afterBuildTicks: (s: any) => {
              s.ticks = xTicks.map((value) => ({ value }));
            },
            afterFit: (s: any) => {
              s.height = 45;
            },
            ticks: {
              color: "#000",
              font: { family: FONT, size: 13.89 },
              maxRotation: 0,
              padding: 3,
              callback: (v: any) => String(v),
            },
            grid: { color: "#b0b0b0", lineWidth: 1.1, tickColor: "#000", tickLength: 5, tickWidth: 1.1 },
            border: { color: "#000", width: 1.1 },
            title: {
              display: true,
              text: xLabel,
              color: "#000",
              font: { family: FONT, size: 13.89 },
              padding: { top: 4, bottom: 0 },
            },
          },
          y: {
            type: "linear",
            min: 5420.73,
            max: 5493.35,
            afterBuildTicks: (s: any) => {
              s.ticks = yTicks.map((value) => ({ value }));
            },
            afterFit: (s: any) => {
              s.width = 80.5;
            },
            ticks: {
              color: "#000",
              font: { family: FONT, size: 13.89 },
              padding: 3,
              callback: (v: any) => String(v),
            },
            grid: { color: "#b0b0b0", lineWidth: 1.1, tickColor: "#000", tickLength: 5, tickWidth: 1.1 },
            border: { color: "#000", width: 1.1 },
            title: {
              display: true,
              text: yLabel,
              color: "#000",
              font: { family: FONT, size: 13.89 },
              padding: { top: 13, bottom: 0 },
            },
          },
        },
      },
      plugins: [framePlugin],
    } as any);
    return () => chart.destroy();
  }, []);
  return <canvas ref={ref} width={1000} height={1000} style={{ display: "block" }} />;
}
